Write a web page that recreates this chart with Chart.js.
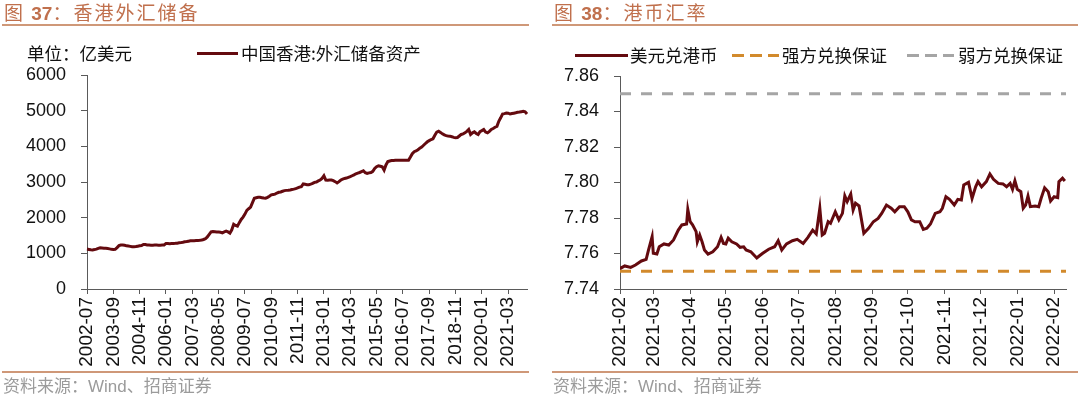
<!DOCTYPE html>
<html>
<head>
<meta charset="utf-8">
<script src="https://cdn.jsdelivr.net/npm/chart.js@4.4.0/dist/chart.umd.min.js"></script>
<style>
  body { margin: 0; width: 1080px; height: 394px; background: #fff; position: relative; overflow: hidden;
         font-family: "Noto Sans CJK SC", sans-serif; }
  canvas { position: absolute; top: 0; }
  .title { position: absolute; top: 0; font-size: 19px; line-height: 24px; color: #c0704d; letter-spacing: 2px; white-space: nowrap; }
  .title b { font-family: "Liberation Sans", Arial, sans-serif; letter-spacing: 0; }
  .rule { position: absolute; height: 2px; background: #cf9878; }
  .source { position: absolute; top: 375px; font-size: 17px; line-height: 20px; color: #9b9b9b; white-space: nowrap; }
  .source span { font-family: "Liberation Sans", Arial, sans-serif; }
  .lg { position: absolute; font-size: 17.5px; line-height: 20px; color: #111; white-space: nowrap; }
  .sw { position: absolute; height: 3px; }
</style>
</head>
<body>
<canvas id="reserveChart" width="540" height="394" style="left:0"></canvas>
<canvas id="fxChart" width="540" height="394" style="left:540px"></canvas>

<div class="title" style="left:4px">图 <b>37</b>：香港外汇储备</div>
<div class="rule" style="left:2px; width:527px; top:24px"></div>
<div class="lg" style="left:27px; top:43px">单位：亿美元</div>
<div class="sw" style="left:197px; top:52px; width:41px; background:#640a0f"></div>
<div class="lg" style="left:241px; top:43px">中国香港:外汇储备资产</div>
<div class="rule" style="left:2px; width:527px; top:371px"></div>
<div class="source" style="left:3px">资料来源：<span>Wind</span>、招商证券</div>

<div class="title" style="left:554px">图 <b>38</b>：港币汇率</div>
<div class="rule" style="left:552px; width:526px; top:24px"></div>
<div class="sw" style="left:575px; top:54px; width:53px; background:#640a0f"></div>
<div class="lg" style="left:630px; top:45px">美元兑港币</div>
<div class="sw" style="left:732px; top:54px; width:47px; background:repeating-linear-gradient(90deg,#d28a2c 0 12px,transparent 12px 18px)"></div>
<div class="lg" style="left:782px; top:45px">强方兑换保证</div>
<div class="sw" style="left:907px; top:54px; width:47px; background:repeating-linear-gradient(90deg,#a5a5a5 0 12px,transparent 12px 18px)"></div>
<div class="lg" style="left:958px; top:45px">弱方兑换保证</div>
<div class="rule" style="left:552px; width:526px; top:371px"></div>
<div class="source" style="left:553px">资料来源：<span>Wind</span>、招商证券</div>

<script>
// 图37: 香港外汇储备, monthly from 2002-07, 亿美元
const reserveStartYear = 2002;
const reserveStartMonth = 7;
const reserveValues = [
  1119, 1110, 1100, 1095, 1105, 1118,
  1140, 1155, 1150, 1145, 1140, 1135, 1125, 1112, 1110, 1112, 1160, 1215,
  1231, 1235, 1225, 1210, 1203, 1195, 1185, 1183, 1190, 1200, 1211, 1220,
  1250, 1245, 1235, 1231, 1228, 1230, 1232, 1231, 1230, 1228, 1231, 1235,
  1278, 1275, 1272, 1275, 1278, 1280, 1285, 1294, 1300, 1310, 1322, 1330,
  1340, 1350, 1352, 1355, 1358, 1361, 1365, 1375, 1389, 1410, 1461, 1530,
  1600, 1610, 1605, 1600, 1595, 1590, 1575, 1600, 1620, 1600, 1565, 1660,
  1815, 1780, 1760, 1860, 1950, 2017, 2100, 2203, 2250, 2294, 2420, 2544,
  2560, 2572, 2570, 2560, 2550, 2545, 2570, 2600, 2640, 2650, 2660, 2690,
  2711, 2720, 2740, 2758, 2765, 2770, 2778, 2790, 2800, 2815, 2833, 2855,
  2870, 2944, 2935, 2925, 2925, 2940, 2960, 2989, 3000, 3030, 3056, 3100,
  3175, 3056, 3050, 3056, 3056, 3040, 3010, 2972, 3010, 3056, 3080, 3100,
  3111, 3130, 3150, 3175, 3200, 3230, 3250, 3267, 3290, 3314, 3260, 3239,
  3255, 3267, 3300, 3380, 3430, 3453, 3440, 3425, 3333, 3480, 3572, 3590,
  3600, 3605, 3611, 3611, 3611, 3611, 3611, 3610, 3611, 3611, 3700, 3794,
  3850, 3869, 3900, 3950, 3981, 4030, 4080, 4128, 4160, 4190, 4211, 4310,
  4400, 4425, 4390, 4350, 4320, 4300, 4290, 4286, 4270, 4250, 4239, 4247,
  4290, 4333, 4350, 4378, 4420, 4472, 4333, 4380, 4406, 4360, 4333, 4414,
  4440, 4472, 4400, 4378, 4420, 4472, 4500, 4536, 4560, 4703, 4800, 4906,
  4918, 4933, 4930, 4906, 4920, 4930, 4940, 4953, 4960, 4970, 4981, 4969,
  4906
];
const reserveTickEvery = 14;

// 图38: 港币汇率, days counted from 2021-02-01
const fxMonths = ["2021-02", "2021-03", "2021-04", "2021-05", "2021-06", "2021-07", "2021-08",
  "2021-09", "2021-10", "2021-11", "2021-12", "2022-01", "2022-02"];
const fxDays = [
  0, 4, 9, 13, 18, 22, 24, 27, 28, 31, 33, 37, 41, 45, 49, 52, 56, 57, 59, 61,
  64, 65, 67, 69, 71, 74, 78, 82, 85, 87, 89, 91, 94, 98, 101, 104, 106, 110, 115, 117,
  120, 125, 130, 133, 136, 140, 145, 149, 154, 158, 162, 165, 168, 170, 172, 175, 177, 181, 184, 187,
  189, 191, 194, 196, 198, 201, 205, 209, 213, 217, 220, 224, 228, 231, 235, 239, 242, 245, 248, 252,
  255, 258, 261, 265, 269, 271, 274, 277, 281, 284, 287, 289, 293, 296, 299, 301, 304, 308, 311, 314,
  318, 322, 325, 328, 330, 332, 334, 337, 339, 341, 343, 345, 349, 352, 354, 357, 360, 362, 365, 368,
  369, 372, 374
];
const fxRates = [
  7.7515, 7.7530, 7.7522, 7.7535, 7.7558, 7.7567, 7.7620, 7.7695, 7.7601, 7.7597,
  7.7638, 7.7654, 7.7648, 7.7676, 7.7732, 7.7761, 7.7766, 7.7849, 7.7779, 7.7761,
  7.7723, 7.7666, 7.7704, 7.7666, 7.7620, 7.7597, 7.7610, 7.7638, 7.7691, 7.7657,
  7.7654, 7.7686, 7.7666, 7.7654, 7.7635, 7.7638, 7.7620, 7.7610, 7.7575, 7.7586,
  7.7601, 7.7624, 7.7638, 7.7672, 7.7620, 7.7654, 7.7672, 7.7680, 7.7657, 7.7691,
  7.7732, 7.7710, 7.7855, 7.7704, 7.7714, 7.7779, 7.7770, 7.7835, 7.7789, 7.7826,
  7.7924, 7.7892, 7.7935, 7.7845, 7.7883, 7.7868, 7.7714, 7.7742, 7.7779, 7.7798,
  7.7826, 7.7873, 7.7855, 7.7835, 7.7864, 7.7864, 7.7835, 7.7789, 7.7779, 7.7779,
  7.7736, 7.7742, 7.7766, 7.7826, 7.7835, 7.7855, 7.7920, 7.7905, 7.7873, 7.7905,
  7.7901, 7.7986, 7.8001, 7.7911, 7.7976, 7.8005, 7.7976, 7.8005, 7.8048, 7.8018,
  7.7995, 7.7992, 7.7976, 7.7995, 7.7962, 7.8010, 7.7962, 7.7948, 7.7855, 7.7873,
  7.7924, 7.7864, 7.7868, 7.7864, 7.7910, 7.7970, 7.7948, 7.7896, 7.7920, 7.7915,
  7.8005, 7.8024, 7.8008
];
const strongSide = 7.75;
const weakSide = 7.85;
const fxLastDay = 375;

const lineColor = "#640a0f";
const axisColor = "#5a5a5a";
const tickFont = { family: "'Liberation Sans', Arial, sans-serif", size: 18 };
const xTickFont = { family: "'Liberation Sans', Arial, sans-serif", size: 19 };

const reserveLabels = reserveValues.map((v, i) => {
  const m = reserveStartMonth - 1 + i;
  const y = reserveStartYear + Math.floor(m / 12);
  return y + "-" + String((m % 12) + 1).padStart(2, "0");
});

const dayOf = (ym) => {
  const [y, m] = ym.split("-").map(Number);
  return (Date.UTC(y, m - 1, 1) - Date.UTC(2021, 1, 1)) / 86400000;
};
const fxMonthDays = fxMonths.map(dayOf);

new Chart(document.getElementById("reserveChart"), {
  type: "line",
  data: {
    labels: reserveLabels,
    datasets: [{
      data: reserveValues,
      borderColor: lineColor,
      borderWidth: 3,
      pointRadius: 0,
      tension: 0,
    }],
  },
  options: {
    responsive: false,
    animation: false,
    layout: { padding: { left: 0, right: 13, top: 75, bottom: 25 } },
    plugins: { legend: { display: false }, tooltip: { enabled: false } },
    scales: {
      x: {
        offset: false,
        afterFit: (s) => { s.height = 80; },
        border: { color: axisColor, width: 1 },
        grid: { drawOnChartArea: false, color: axisColor, tickLength: 5 },
        ticks: {
          autoSkip: false, minRotation: 90, maxRotation: 90, padding: 3,
          color: "#111", font: xTickFont,
          callback: function (value, index) {
            return index % reserveTickEvery === 0 ? this.getLabelForValue(value) : null;
          },
        },
      },
      y: {
        min: 0, max: 6000,
        afterFit: (s) => { s.width = 87; },
        border: { color: axisColor, width: 1 },
        grid: { drawOnChartArea: false, color: axisColor, tickLength: 6 },
        ticks: { stepSize: 1000, padding: 15, color: "#111", font: tickFont,
                 callback: (v) => String(v) },
      },
    },
  },
});

new Chart(document.getElementById("fxChart"), {
  type: "line",
  data: {
    datasets: [
      {
        data: fxDays.map((d, i) => ({ x: d, y: fxRates[i] })),
        borderColor: lineColor,
        borderWidth: 3,
        pointRadius: 0,
        tension: 0,
      },
      {
        data: [{ x: 0, y: strongSide }, { x: fxLastDay, y: strongSide }],
        borderColor: "#d28a2c",
        borderWidth: 3,
        borderDash: [11, 10],
        pointRadius: 0,
      },
      {
        data: [{ x: 0, y: weakSide }, { x: fxLastDay, y: weakSide }],
        borderColor: "#a5a5a5",
        borderWidth: 3,
        borderDash: [11, 10],
        pointRadius: 0,
      },
    ],
  },
  options: {
    responsive: false,
    animation: false,
    layout: { padding: { left: 0, right: 2, top: 76, bottom: 25 } },
    plugins: { legend: { display: false }, tooltip: { enabled: false } },
    scales: {
      x: {
        type: "linear",
        min: 0, max: fxLastDay,
        afterFit: (s) => { s.height = 80; },
        afterBuildTicks: (s) => { s.ticks = fxMonthDays.map((d) => ({ value: d })); },
        border: { color: axisColor, width: 1 },
        grid: { drawOnChartArea: false, color: axisColor, tickLength: 5 },
        ticks: {
          autoSkip: false, minRotation: 90, maxRotation: 90, padding: 3,
          color: "#111", font: xTickFont,
          callback: (value) => fxMonths[fxMonthDays.indexOf(value)],
        },
      },
      y: {
        min: 7.74, max: 7.86,
        afterFit: (s) => { s.width = 80; },
        border: { color: axisColor, width: 1 },
        grid: { drawOnChartArea: false, color: axisColor, tickLength: 6 },
        ticks: { stepSize: 0.02, padding: 15, color: "#111", font: tickFont,
                 callback: (v) => v.toFixed(2) },
      },
    },
  },
});
</script>
</body>
</html>
